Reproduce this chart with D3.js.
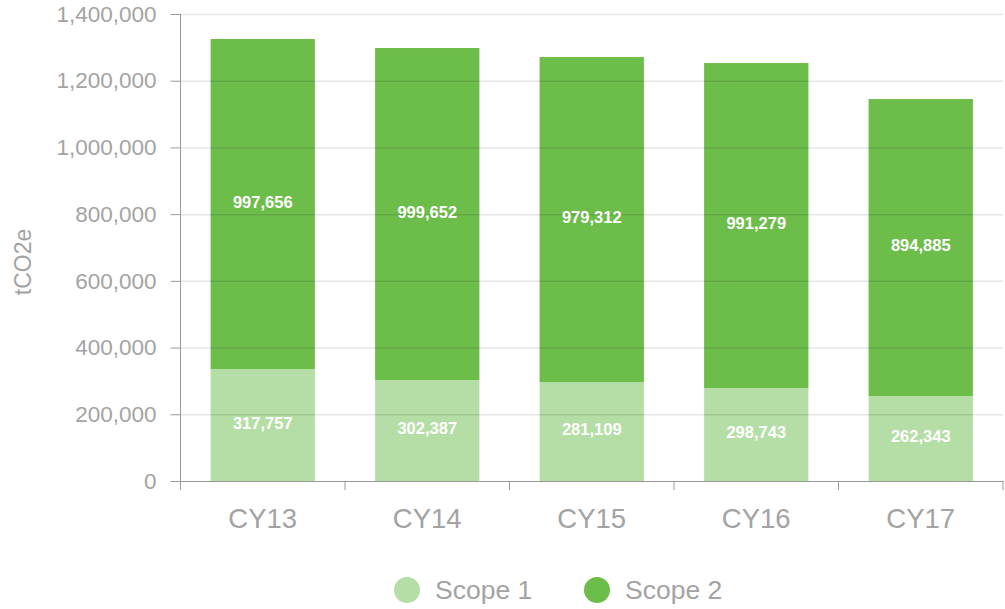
<!DOCTYPE html>
<html>
<head>
<meta charset="utf-8">
<script src="https://cdn.jsdelivr.net/npm/d3@7"></script>
<style>
  body { margin: 0; background: #fff; }
  text { font-family: "Liberation Sans", Helvetica, Arial, sans-serif; }
</style>
</head>
<body>
<svg id="chart" width="1005" height="609"></svg>
<script>
// data
const categories = ["CY13", "CY14", "CY15", "CY16", "CY17"];
const scope1 = [335700, 302800, 296800, 278800, 254800];
const scope2 = [989300, 995200, 974200, 974200, 890200];
// printed labels (as shown on the original)
const scope1Labels = ["317,757", "302,387", "281,109", "298,743", "262,343"];
const scope2Labels = ["997,656", "999,652", "979,312", "991,279", "894,885"];
const yTicks = [0, 200000, 400000, 600000, 800000, 1000000, 1200000, 1400000];
const seriesNames = ["Scope 1", "Scope 2"];
const colors = ["#b5dea6", "#6dbd4b"];
const textGray = "#a3a3a3";

const svg = d3.select("#chart");
const plotLeft = 180.5, plotRight = 1003, plotTop = 14, plotBottom = 481;

const x = d3.scaleBand().domain(categories).range([plotLeft, plotRight])
  .paddingInner(0.366).paddingOuter(0.183);
const y = d3.scaleLinear().domain([0, 1400000]).range([plotBottom, plotTop]);

const rows = categories.map((c, i) => ({ cat: c, s1: scope1[i], s2: scope2[i], l1: scope1Labels[i], l2: scope2Labels[i] }));
const stack = d3.stack().keys(["s1", "s2"])(rows);

// bars
stack.forEach((layer, k) => {
  svg.append("g").selectAll("rect").data(layer).join("rect")
    .attr("x", d => x(d.data.cat))
    .attr("width", x.bandwidth())
    .attr("y", d => y(d[1]))
    .attr("height", d => y(d[0]) - y(d[1]))
    .attr("fill", colors[k]);
});

// gridlines (over the bars, faint)
svg.append("g").selectAll("line").data(yTicks.slice(1)).join("line")
  .attr("x1", plotLeft).attr("x2", plotRight)
  .attr("y1", d => y(d) + 0.5).attr("y2", d => y(d) + 0.5)
  .attr("stroke", "rgba(0,0,0,0.1)").attr("stroke-width", 1.5);

// value labels
stack.forEach((layer, k) => {
  svg.append("g").selectAll("text").data(layer).join("text")
    .attr("x", d => x(d.data.cat) + x.bandwidth() / 2)
    .attr("y", d => (y(d[0]) + y(d[1])) / 2 - 2)
    .attr("dy", "0.35em")
    .attr("text-anchor", "middle")
    .attr("fill", "#fff")
    .attr("font-weight", "bold")
    .attr("font-size", 16.5)
    .text(d => k === 0 ? d.data.l1 : d.data.l2);
});

// y axis
const yAxis = svg.append("g").attr("transform", `translate(${plotLeft},0)`)
  .call(d3.axisLeft(y).tickValues(yTicks).tickFormat(d3.format(",")).tickSize(10).tickPadding(14));
yAxis.select(".domain").attr("stroke", "#999").attr("d", `M0,${plotTop}V${plotBottom + 9}`);
yAxis.selectAll(".tick line").attr("stroke", "#999");
yAxis.selectAll(".tick text").attr("fill", textGray).attr("font-size", 22.5)
  .style("font-family", "'Liberation Sans', Helvetica, Arial, sans-serif");

// x axis
const xAxis = svg.append("g").attr("transform", `translate(0,${plotBottom})`)
  .call(d3.axisBottom(x).tickSize(0).tickPadding(27));
xAxis.select(".domain").attr("stroke", "#999");
xAxis.selectAll(".tick text").attr("fill", textGray).attr("font-size", 27.5)
  .style("font-family", "'Liberation Sans', Helvetica, Arial, sans-serif");
const bounds = [plotLeft].concat(categories.map(c => x(c) + x.bandwidth() + x.step() * x.paddingInner() / 2));
bounds[bounds.length - 1] = plotRight;
xAxis.selectAll("line.sep").data(bounds).join("line").attr("class", "sep")
  .attr("x1", d => d).attr("x2", d => d).attr("y1", 0).attr("y2", 9)
  .attr("stroke", "#999");

// y axis title
svg.append("text")
  .attr("transform", `translate(31,262) rotate(-90)`)
  .attr("text-anchor", "middle")
  .attr("fill", textGray)
  .attr("font-size", 23)
  .text("tCO2e");

// legend
const legendX = [407, 597];
const legend = svg.append("g").selectAll("g").data(seriesNames).join("g")
  .attr("transform", (d, i) => `translate(${legendX[i]},590)`);
legend.append("circle").attr("r", 13).attr("fill", (d, i) => colors[i]);
legend.append("text").attr("x", 28).attr("dy", "0.35em")
  .attr("fill", textGray).attr("font-size", 26.5).text(d => d);
</script>
</body>
</html>
